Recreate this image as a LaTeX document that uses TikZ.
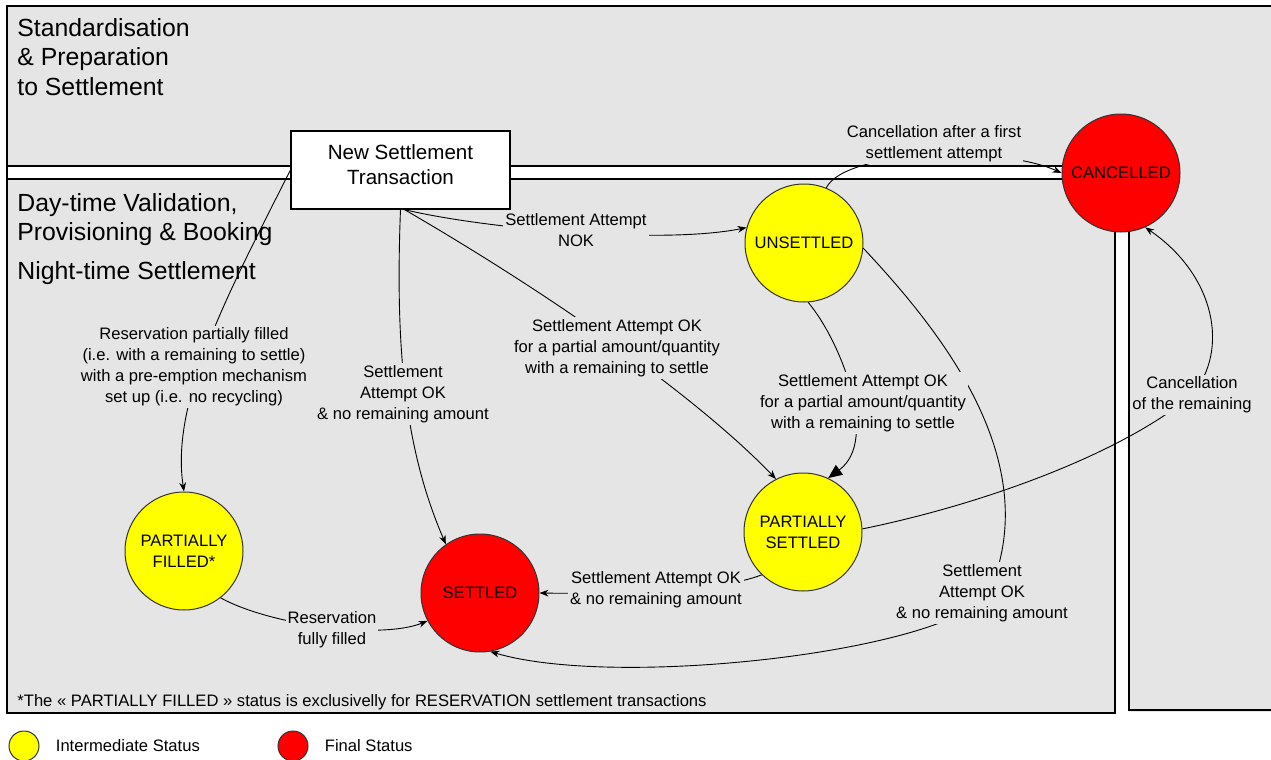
\documentclass[tikz,border=0pt]{standalone}
\usepackage{fontspec}
\setmainfont{Liberation Sans}
\usepackage{tikz}
\usetikzlibrary{arrows.meta,positioning}
\definecolor{RegionFill}{gray}{0.9}
\definecolor{StatusYellow}{HTML}{FFFF00}
\definecolor{StatusRed}{HTML}{FF0000}
\newcommand{\LabelFont}{\fontsize{8.3}{10.5}\selectfont}
\newcommand{\RegionFont}{\fontsize{12.4}{14.75}\selectfont}
\newcommand{\BoxFont}{\fontsize{10.3}{12.5}\selectfont}

\begin{document}
\begin{tikzpicture}[
  x=0.5pt,y=-0.5pt,
  font=\LabelFont,
  status/.style={circle,draw=black!80,line width=0.5pt,minimum size=59pt,inner sep=0pt,align=center},
  intermediate/.style={status,fill=StatusYellow},
  final/.style={status,fill=StatusRed},
  transition/.style={draw,line width=0.45pt,-{Stealth[length=4.5pt,width=3.4pt]}},
  edgelabel/.style={fill=RegionFill,inner sep=1pt,align=center},
  region/.style={font=\RegionFont,align=left,anchor=north west,inner sep=0pt},
]
  \useasboundingbox (0,0) rectangle (1271,760);
  \fill[RegionFill] (7,6) rectangle (1271,712);
  \fill[white] (7,166) rectangle (1129,179);
  \fill[white] (1115,166) rectangle (1129,713);
  \draw[line width=0.6pt] (1271,6) -- (7,6) -- (7,713) -- (1115,713) -- (1115,179) -- (7,179);
  \draw[line width=0.6pt] (7,166) -- (1129,166) -- (1129,710) -- (1271,710);

  \node[region] (prep) at (17,18) {Standardisation\\\& Preparation\\to Settlement};
  \node[region] (day) at (17,193) {Day-time Validation,\\Provisioning \& Booking};
  \node[region] (night) at (17,261) {Night-time Settlement};

  \node[draw,line width=0.6pt,fill=white,minimum width=109.5pt,minimum height=39pt,
        text depth=5pt,align=center,font=\BoxFont] (new) at (400.5,170) {New Settlement\\Transaction};
  \node[intermediate] (unsettled) at (804,243) {UNSETTLED};
  \node[final] (cancelled) at (1121,173) {CANCELLED};
  \node[intermediate] (psettled) at (803,532) {PARTIALLY\\SETTLED};
  \node[final] (settled) at (480,593) {SETTLED};
  \node[intermediate] (pfilled) at (184,551) {PARTIALLY\\FILLED*};

  \coordinate (viaright) at (990,590);
  \coordinate (viacancel) at (1192,395);
  \draw[transition] (new.west) .. controls (230,290) and (170,400) .. (pfilled.north);
  \draw[transition] (new.south) .. controls (395,350) and (405,450) .. (settled.125);
  \draw[transition] ([xshift=2pt]new.south) .. controls (480,228) and (660,245) .. (unsettled.165);
  \draw[transition] ([xshift=2pt]new.south) .. controls (560,300) and (700,400) .. (psettled.117);
  \draw[transition] (unsettled.68) .. controls (845,150) and (1000,145) .. (cancelled.west);
  \draw[transition,-{Triangle[length=7pt,width=6pt]}] (unsettled.-86)
    .. controls (840,340) and (880,440) .. (psettled.65);
  \draw[transition] (unsettled.-5) .. controls (940,330) and (1045,460) .. (viaright)
    .. controls (960,650) and (620,690) .. (settled.-80);
  \draw[transition] (psettled.-134) .. controls (720,592) and (600,594) .. (settled.east);
  \draw[transition] (psettled.3) .. controls (980,505) and (1120,455) .. (viacancel)
    .. controls (1230,350) and (1215,275) .. (cancelled.-66);
  \draw[transition] (pfilled.-52) .. controls (270,625) and (380,640) .. (settled.-152);

  \node[edgelabel] (reservepartial) at (194,367)
    {Reservation partially filled\\(i.e. with a remaining to settle)\\with a pre-emption mechanism\\set up (i.e. no recycling)};
  \node[edgelabel] (directok) at (403,394) {Settlement\\Attempt OK\\\& no remaining amount};
  \node[edgelabel] (attemptnok) at (576,230) {Settlement Attempt\\NOK};
  \node[edgelabel] (partialfirst) at (617,348)
    {Settlement Attempt OK\\for a partial amount/quantity\\with a remaining to settle};
  \node[edgelabel] (cancelfirst) at (934,144) {Cancellation after a first\\settlement attempt};
  \node[edgelabel] (partialagain) at (863,403)
    {Settlement Attempt OK\\for a partial amount/quantity\\with a remaining to settle};
  \node[edgelabel] (lateok) at (982,593) {Settlement\\Attempt OK\\\& no remaining amount};
  \node[edgelabel] (remainok) at (656,590) {Settlement Attempt OK\\\& no remaining amount};
  \node[edgelabel] (cancelrest) at (1192,395) {Cancellation\\of the remaining};
  \node[edgelabel] (fullyfilled) at (332,630) {Reservation\\fully filled};

  \node[anchor=west,inner sep=0pt] (footnote) at (17,702)
    {*The « PARTIALLY FILLED » status is exclusivelly for RESERVATION settlement transactions};

  \node[intermediate,minimum size=15pt] (keyintermediate) at (24,746) {};
  \node[right=8pt of keyintermediate,inner sep=0pt] (keyintermediatetext) {Intermediate Status};
  \node[final,minimum size=15pt] (keyfinal) at (293,746) {};
  \node[right=8pt of keyfinal,inner sep=0pt] (keyfinaltext) {Final Status};
\end{tikzpicture}
\end{document}
